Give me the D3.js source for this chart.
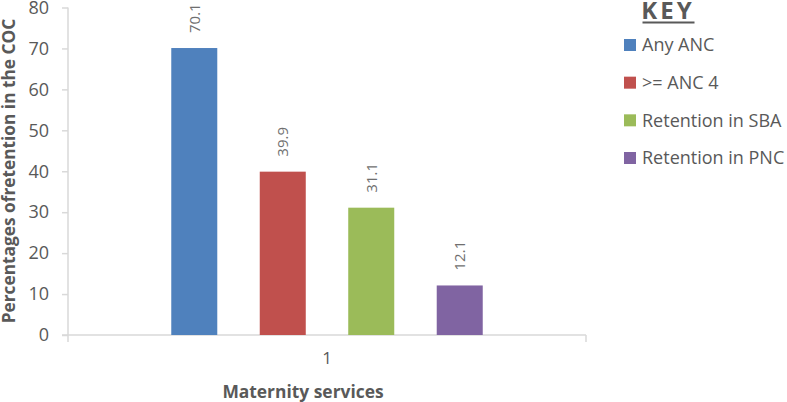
<!DOCTYPE html>
<html>
<head>
<meta charset="utf-8">
<script src="https://cdn.jsdelivr.net/npm/d3@7"></script>
<style>
  html, body { margin: 0; padding: 0; background: #fff; }
  svg { display: block; }
</style>
</head>
<body>
<svg id="chart" width="787" height="402"></svg>
<script>
// ---- data ----
const categories = ["1"];
const seriesNames = ["Any ANC", ">= ANC 4", "Retention in SBA", "Retention in PNC"];
const seriesValues = [70.1, 39.9, 31.1, 12.1];
const seriesColors = ["#4F81BD", "#C0504D", "#9BBB59", "#8064A2"];
const yTicks = [0, 10, 20, 30, 40, 50, 60, 70, 80];
const yTitle = "Percentages ofretention in the COC";
const xTitle = "Maternity services";
const legendTitle = "KEY";

// ---- layout ----
const svg = d3.select("#chart");
const font = "'Open Sans', 'Liberation Sans', sans-serif";
const textColor = "#595959";
const axisColor = "#d9d9d9";
const plot = { left: 68, right: 586, top: 6, bottom: 335 };

const y = d3.scaleLinear().domain([0, 80]).range([plot.bottom, plot.top + 1.5]);
const x0 = d3.scaleBand().domain(categories).range([plot.left, plot.right]);
const x1 = d3.scaleBand().domain(seriesNames).range([0, x0.bandwidth()])
  .paddingInner(0.48).paddingOuter(1.167);

// y axis
const yAxis = d3.axisLeft(y).tickValues(yTicks).tickSize(6).tickPadding(13);
const gy = svg.append("g").attr("transform", `translate(${plot.left},0)`).call(yAxis);
gy.select(".domain").remove();
gy.selectAll(".tick line").attr("stroke", axisColor).attr("stroke-width", 1.5);
gy.selectAll(".tick text").attr("fill", textColor).style("font-family", font).style("font-size", "18px");
svg.append("line").attr("x1", plot.left).attr("x2", plot.left)
  .attr("y1", y(80)).attr("y2", plot.bottom + 7)
  .attr("stroke", axisColor).attr("stroke-width", 1.5);

// x axis
const xAxis = d3.axisBottom(x0).tickSize(0).tickPadding(17);
const gx = svg.append("g").attr("transform", `translate(0,${plot.bottom})`).call(xAxis);
gx.select(".domain").remove();
gx.selectAll(".tick text").attr("fill", textColor).style("font-family", font).style("font-size", "17px");
svg.append("line").attr("x1", plot.left - 6).attr("x2", plot.right)
  .attr("y1", plot.bottom).attr("y2", plot.bottom)
  .attr("stroke", axisColor).attr("stroke-width", 1.5);
svg.append("line").attr("x1", plot.right).attr("x2", plot.right)
  .attr("y1", plot.bottom).attr("y2", plot.bottom + 7)
  .attr("stroke", axisColor).attr("stroke-width", 1.5);

// bars
const barData = seriesNames.map((s, i) => ({ name: s, value: seriesValues[i], color: seriesColors[i], cat: categories[0] }));
const g = svg.append("g");
g.selectAll("rect").data(barData).join("rect")
  .attr("x", d => x0(d.cat) + x1(d.name))
  .attr("y", d => y(d.value))
  .attr("width", x1.bandwidth())
  .attr("height", d => y(0) - y(d.value))
  .attr("fill", d => d.color);

// value labels
g.selectAll("text.val").data(barData).join("text")
  .attr("class", "val")
  .attr("transform", d => `translate(${x0(d.cat) + x1(d.name) + x1.bandwidth() / 2 + 5.5},${y(d.value) - 15}) rotate(-90)`)
  .attr("text-anchor", "start")
  .attr("fill", "#6f6f6f")
  .style("font-family", font).style("font-size", "15px")
  .text(d => d.value.toFixed(1));

// axis titles
svg.append("text")
  .attr("transform", `translate(${14.5},${171}) rotate(-90)`)
  .attr("text-anchor", "middle")
  .attr("fill", textColor)
  .style("font-family", font).style("font-size", "17.3px").style("font-weight", "bold")
  .text(yTitle);
svg.append("text")
  .attr("x", 303).attr("y", 398)
  .attr("text-anchor", "middle")
  .attr("fill", textColor)
  .style("font-family", font).style("font-size", "17.4px").style("font-weight", "bold")
  .text(xTitle);

// legend
svg.append("text")
  .attr("x", 668).attr("y", 19)
  .attr("text-anchor", "middle")
  .attr("fill", textColor)
  .style("font-family", font).style("font-size", "24px").style("font-weight", "bold")
  .style("letter-spacing", "3px")
  .text(legendTitle);
svg.append("line").attr("x1", 642.5).attr("x2", 694.5).attr("y1", 22.5).attr("y2", 22.5)
  .attr("stroke", textColor).attr("stroke-width", 2);

const legendY = d3.scalePoint().domain(seriesNames).range([45, 158]);
const lg = svg.append("g").selectAll("g").data(barData).join("g")
  .attr("transform", d => `translate(624,${legendY(d.name)})`);
lg.append("rect").attr("x", 0).attr("y", -6).attr("width", 12).attr("height", 12).attr("fill", d => d.color);
lg.append("text").attr("x", 18).attr("y", 0).attr("dy", "0.35em")
  .attr("fill", textColor)
  .style("font-family", font).style("font-size", "18px")
  .text(d => d.name);
</script>
</body>
</html>
